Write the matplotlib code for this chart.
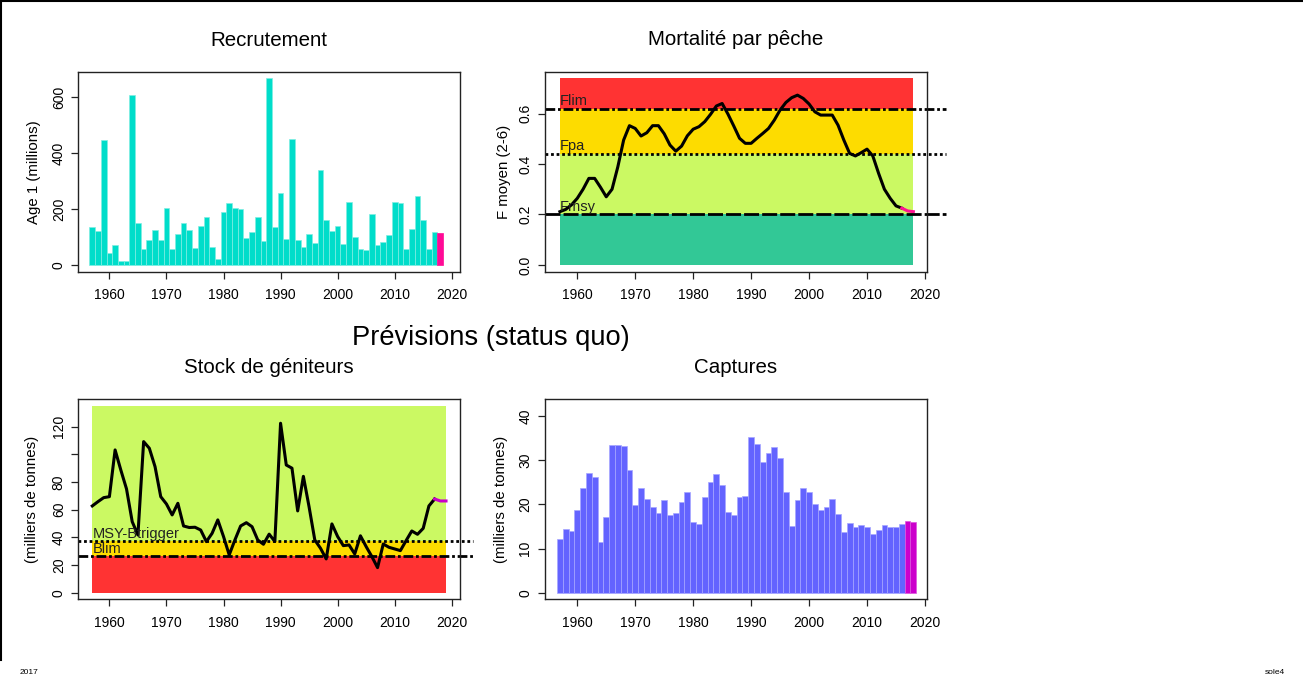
import matplotlib
matplotlib.use("Agg")
import matplotlib.pyplot as plt
from matplotlib.lines import Line2D
import numpy as np

plt.rcParams['font.family'] = ['Liberation Sans', 'DejaVu Sans']

# ---------------- data ----------------
rec_years = list(range(1957, 2019))
recruitment = [136, 122, 447, 43, 72, 14, 14, 608, 150, 57, 88, 125, 91, 204, 58, 112,
               150, 125, 62, 140, 171, 64, 21, 190, 223, 204, 200, 98, 117, 171, 86, 670,
               136, 256, 93, 451, 89, 66, 112, 79, 339, 160, 120, 140, 74, 224, 100, 56,
               52, 183, 72, 82, 107, 224, 222, 58, 129, 247, 161, 57, 117, 115]

f_years = list(range(1957, 2019))
f_bar = [0.211, 0.22, 0.238, 0.264, 0.30, 0.343, 0.343, 0.308, 0.27, 0.30, 0.389, 0.495,
         0.552, 0.541, 0.511, 0.524, 0.552, 0.552, 0.52, 0.475, 0.451, 0.471, 0.512, 0.538,
         0.548, 0.568, 0.597, 0.630, 0.640, 0.598, 0.551, 0.502, 0.482, 0.482, 0.502, 0.521,
         0.541, 0.574, 0.614, 0.644, 0.663, 0.673, 0.66, 0.638, 0.607, 0.594, 0.594, 0.594,
         0.554, 0.495, 0.442, 0.432, 0.445, 0.459, 0.432, 0.363, 0.30, 0.264, 0.234, 0.225,
         0.214, 0.211]
Flim, Fpa, Fmsy = 0.62, 0.44, 0.20

ssb_years = list(range(1957, 2020))
ssb = [62.7, 65.8, 68.7, 69.4, 103.2, 88.7, 75.0, 51.3, 41.7, 109.2, 104.4, 91.1, 69.4,
       64.1, 56.2, 64.6, 48.2, 47.1, 47.3, 45.3, 36.9, 42.9, 52.6, 40.6, 27.3, 38.1, 48.2,
       50.6, 47.7, 38.1, 35.0, 42.3, 37.0, 122.5, 92.3, 90.0, 59.1, 84.1, 62.0, 38.1, 32.1,
       24.4, 49.7, 40.6, 34.0, 34.5, 28.0, 41.1, 33.3, 26.1, 18.1, 35.2, 32.8, 31.6, 30.4,
       37.6, 44.6, 42.2, 46.5, 62.7, 67.7, 66.3, 66.3]
Blim, Btrigger = 26.3, 37.0

catch_years = list(range(1957, 2019))
catches = [12.2, 14.4, 14.0, 18.7, 23.7, 27.0, 26.3, 11.5, 17.1, 33.4, 33.5, 33.3, 27.7,
           19.8, 23.8, 21.2, 19.4, 18.0, 20.9, 17.5, 18.0, 20.5, 22.7, 15.9, 15.5, 21.6,
           25.0, 26.9, 24.3, 18.2, 17.6, 21.6, 21.9, 35.2, 33.7, 29.5, 31.6, 33.0, 30.6,
           22.7, 15.1, 20.9, 23.6, 22.7, 20.1, 18.7, 19.4, 21.2, 17.8, 13.7, 15.7, 14.8,
           15.3, 14.9, 13.3, 14.3, 15.3, 14.9, 14.9, 15.6, 16.2, 15.9]

x_ticks = [1960, 1970, 1980, 1990, 2000, 2010, 2020]

# ---------------- figure ----------------
W, H = 1303, 682
fig = plt.figure(figsize=(W / 100, H / 100), dpi=100)
fig.patch.set_facecolor('white')

def ax_at(l, t, r, b):
    return fig.add_axes([l / W, 1 - b / H, (r - l) / W, (b - t) / H])

ax1 = ax_at(78.3, 72, 460, 271.7)
ax2 = ax_at(545, 71.7, 926.7, 271.7)
ax3 = ax_at(78.3, 399.3, 460, 599.3)
ax4 = ax_at(545, 399.3, 926.7, 599.3)

TFS = 10
LFS = 10.8
TTL = 14.8
for ax in (ax1, ax2, ax3, ax4):
    for s in ax.spines.values():
        s.set_linewidth(1.0)
        s.set_color('#222222')
    ax.tick_params(direction='out', length=5, width=0.9, labelsize=TFS, pad=4,
                   colors='#222222', labelcolor='black')
    ax.tick_params(axis='x', pad=7)
    ax.set_xticks(x_ticks)

def rot_y(ax):
    ax.tick_params(axis='y', labelrotation=90)
    for lab in ax.get_yticklabels():
        lab.set_verticalalignment('center')

# ---- Recrutement ----
rc = ['#00DDCA'] * (len(rec_years) - 1) + ['#FF0A96']
ax1.bar(rec_years, recruitment, width=1.0, color=rc, edgecolor='#7FEDE2', linewidth=0.5)
ax1.patches[-1].set_edgecolor('#FF0A96')
ax1.set_xlim(1954.55, 2021.45)
ax1.set_ylim(-24, 690)
ax1.set_yticks([0, 200, 400, 600])
rot_y(ax1)
ax1.set_ylabel('Age 1 (millions)', fontsize=LFS)
ax1.yaxis.set_label_coords(-0.098, 0.5)
ax1.set_title('Recrutement', fontsize=TTL, pad=19)

# ---- Mortalité par pêche ----
x0, x1 = f_years[0], f_years[-1]
ax2.fill_between([x0, x1], Flim, 0.743, color='#FF3333', lw=0)
ax2.fill_between([x0, x1], Fpa, Flim, color='#FDDC00', lw=0)
ax2.fill_between([x0, x1], Fmsy, Fpa, color='#CBF963', lw=0)
ax2.fill_between([x0, x1], 0, Fmsy, color='#32C896', lw=0)
ax2.plot(f_years[:-2], f_bar[:-2], color='black', lw=2.2, solid_joinstyle='round')
ax2.plot(f_years[-3:], f_bar[-3:], color='#FF1493', lw=2.2)
tr2 = ax2.get_yaxis_transform()
ax2.plot([0, 1.05], [Flim, Flim], transform=tr2, clip_on=False, color='black', lw=2,
         ls=(0, (3.5, 1.0, 1.0, 1.0)))
ax2.plot([0, 1.05], [Fpa, Fpa], transform=tr2, clip_on=False, color='black', lw=2,
         ls=(0, (1.0, 1.0)))
ax2.plot([0, 1.05], [Fmsy, Fmsy], transform=tr2, clip_on=False, color='black', lw=2,
         ls=(0, (5.4, 1.1)))
for lab, yv in (('Flim', Flim), ('Fpa', Fpa), ('Fmsy', Fmsy)):
    ax2.annotate(lab, (x0, yv), xytext=(0, 5.5), textcoords='offset points',
                 fontsize=10.5, va='center', ha='left', color='#222222')
ax2.set_xlim(1954.43, 2020.3)
ax2.set_ylim(-0.027, 0.766)
ax2.set_yticks([0.0, 0.2, 0.4, 0.6])
ax2.set_yticklabels(['0.0', '0.2', '0.4', '0.6'])
rot_y(ax2)
ax2.set_ylabel('F moyen (2-6)', fontsize=LFS)
ax2.yaxis.set_label_coords(-0.089, 0.5)
ax2.set_title('Mortalité par pêche', fontsize=TTL, pad=19)

# ---- Stock de géniteurs ----
s0, s1 = ssb_years[0], ssb_years[-1]
ax3.fill_between([s0, s1], Btrigger, 135.2, color='#CBF963', lw=0)
ax3.fill_between([s0, s1], Blim, Btrigger, color='#FDDC00', lw=0)
ax3.fill_between([s0, s1], 0, Blim, color='#FF3333', lw=0)
ax3.plot(ssb_years[:-2], ssb[:-2], color='black', lw=2.2, solid_joinstyle='round')
ax3.plot(ssb_years[-3:], ssb[-3:], color='#C800C8', lw=2.2)
tr3 = ax3.get_yaxis_transform()
ax3.plot([0, 1.035], [Btrigger, Btrigger], transform=tr3, clip_on=False, color='black',
         lw=2, ls=(0, (1.0, 1.0)))
ax3.plot([0, 1.035], [Blim, Blim], transform=tr3, clip_on=False, color='black', lw=2,
         ls=(0, (3.5, 1.0, 1.0, 1.0)))
for lab, yv in (('MSY-Btrigger', Btrigger), ('Blim', Blim)):
    ax3.annotate(lab, (s0, yv), xytext=(0, 5.5), textcoords='offset points',
                 fontsize=10.5, va='center', ha='left', color='#222222')
ax3.set_xlim(1954.55, 2021.45)
ax3.set_ylim(-4.8, 139.8)
ax3.set_yticks([0, 20, 40, 60, 80, 100, 120])
ax3.set_yticklabels(['0', '20', '40', '60', '80', '', '120'])
rot_y(ax3)
ax3.set_ylabel('(milliers de tonnes)', fontsize=LFS)
ax3.yaxis.set_label_coords(-0.103, 0.5)
ax3.set_title('Stock de géniteurs', fontsize=TTL, pad=19)

# ---- Captures ----
cc = ['#6363FF'] * (len(catch_years) - 2) + ['#CC00CC', '#CC00CC']
ax4.bar(catch_years, catches, width=1.0, color=cc, edgecolor='#A6A6FF', linewidth=0.5)
for p in ax4.patches[-2:]:
    p.set_edgecolor('#DD55DD')
ax4.set_xlim(1954.43, 2020.3)
ax4.set_ylim(-1.5, 43.8)
ax4.set_yticks([0, 10, 20, 30, 40])
rot_y(ax4)
ax4.set_ylabel('(milliers de tonnes)', fontsize=LFS)
ax4.yaxis.set_label_coords(-0.097, 0.5)
ax4.set_title('Captures', fontsize=TTL, pad=19)

# ---- figure texts ----
fig.text(491 / W, 1 - 338 / H, 'Prévisions (status quo)', fontsize=19.6,
         ha='center', va='center')
fig.text(20 / W, 1 - 672 / H, '2017', fontsize=6, ha='left', va='center')
fig.text(1265 / W, 1 - 672 / H, 'sole4', fontsize=6, ha='left', va='center')

# page border lines (top and left)
fig.add_artist(Line2D([0, 1], [1 - 0.5 / H, 1 - 0.5 / H], transform=fig.transFigure,
                      color='black', lw=1.5))
fig.add_artist(Line2D([0.7 / W, 0.7 / W], [1, 1 - 660 / H], transform=fig.transFigure,
                      color='black', lw=1.5))

fig.savefig('out.png', dpi=100)
